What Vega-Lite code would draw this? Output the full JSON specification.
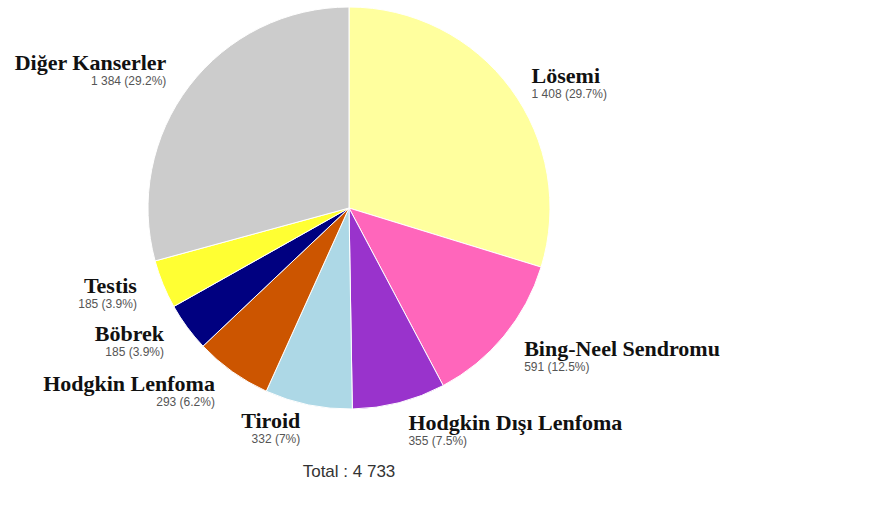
{
  "$schema": "https://vega.github.io/schema/vega-lite/v6.json",
  "autosize": {"type": "none"},
  "width": 698,
  "height": 416,
  "padding": {"left": 0, "top": 0, "right": 178, "bottom": 110},
  "background": "white",
  "title": {
    "text": "Total : 4 733",
    "orient": "bottom",
    "frame": "group",
    "anchor": "middle",
    "offset": 15,
    "font": "Liberation Sans",
    "fontSize": 17,
    "fontWeight": "normal",
    "color": "#333333"
  },
  "data": {
    "values": [
      {"order": 1, "name": "Lösemi", "count": 1408, "label": "1 408 (29.7%)"},
      {"order": 2, "name": "Bing-Neel Sendromu", "count": 591, "label": "591 (12.5%)"},
      {"order": 3, "name": "Hodgkin Dışı Lenfoma", "count": 355, "label": "355 (7.5%)"},
      {"order": 4, "name": "Tiroid", "count": 332, "label": "332 (7%)"},
      {"order": 5, "name": "Hodgkin Lenfoma", "count": 293, "label": "293 (6.2%)"},
      {"order": 6, "name": "Böbrek", "count": 185, "label": "185 (3.9%)"},
      {"order": 7, "name": "Testis", "count": 185, "label": "185 (3.9%)"},
      {"order": 8, "name": "Diğer Kanserler", "count": 1384, "label": "1 384 (29.2%)"}
    ]
  },
  "transform": [
    {"stack": "count", "groupby": [], "sort": [{"field": "order", "order": "ascending"}], "as": ["s0", "s1"]}
  ],
  "encoding": {
    "theta": {"field": "count", "type": "quantitative", "stack": true, "scale": {"domain": [0, 4733]}},
    "order": {"field": "order", "type": "quantitative", "sort": "ascending"}
  },
  "layer": [
    {
      "mark": {"type": "arc", "outerRadius": 201, "stroke": "white", "strokeWidth": 1},
      "encoding": {
        "color": {
          "field": "name",
          "type": "nominal",
          "legend": null,
          "scale": {
            "domain": ["Lösemi", "Bing-Neel Sendromu", "Hodgkin Dışı Lenfoma", "Tiroid", "Hodgkin Lenfoma", "Böbrek", "Testis", "Diğer Kanserler"],
            "range": ["#ffff9e", "#ff66bb", "#9933cc", "#add8e6", "#cc5500", "#000080", "#ffff33", "#cccccc"]
          }
        }
      }
    },
    {
      "mark": {"type": "text", "radius": 222, "align": "left", "baseline": "middle", "font": "Liberation Serif", "fontWeight": "bold", "fontSize": 22, "color": "#111111", "dx": 4},
      "encoding": {
        "text": {"condition": {"test": "datum.s0 + datum.s1 < 4733", "field": "name"}, "value": ""}
      }
    },
    {
      "mark": {"type": "text", "radius": 222, "align": "left", "baseline": "middle", "font": "Liberation Sans", "fontSize": 12, "color": "#555555", "dx": 4, "dy": 18},
      "encoding": {
        "text": {"condition": {"test": "datum.s0 + datum.s1 < 4733", "field": "label"}, "value": ""}
      }
    },
    {
      "mark": {"type": "text", "radius": 226, "align": "right", "baseline": "middle", "font": "Liberation Serif", "fontWeight": "bold", "fontSize": 22, "color": "#111111", "dx": -3, "dy": -8},
      "encoding": {
        "text": {"condition": {"test": "datum.s0 + datum.s1 >= 4733", "field": "name"}, "value": ""}
      }
    },
    {
      "mark": {"type": "text", "radius": 226, "align": "right", "baseline": "middle", "font": "Liberation Sans", "fontSize": 12, "color": "#555555", "dx": -3, "dy": 10},
      "encoding": {
        "text": {"condition": {"test": "datum.s0 + datum.s1 >= 4733", "field": "label"}, "value": ""}
      }
    }
  ]
}
